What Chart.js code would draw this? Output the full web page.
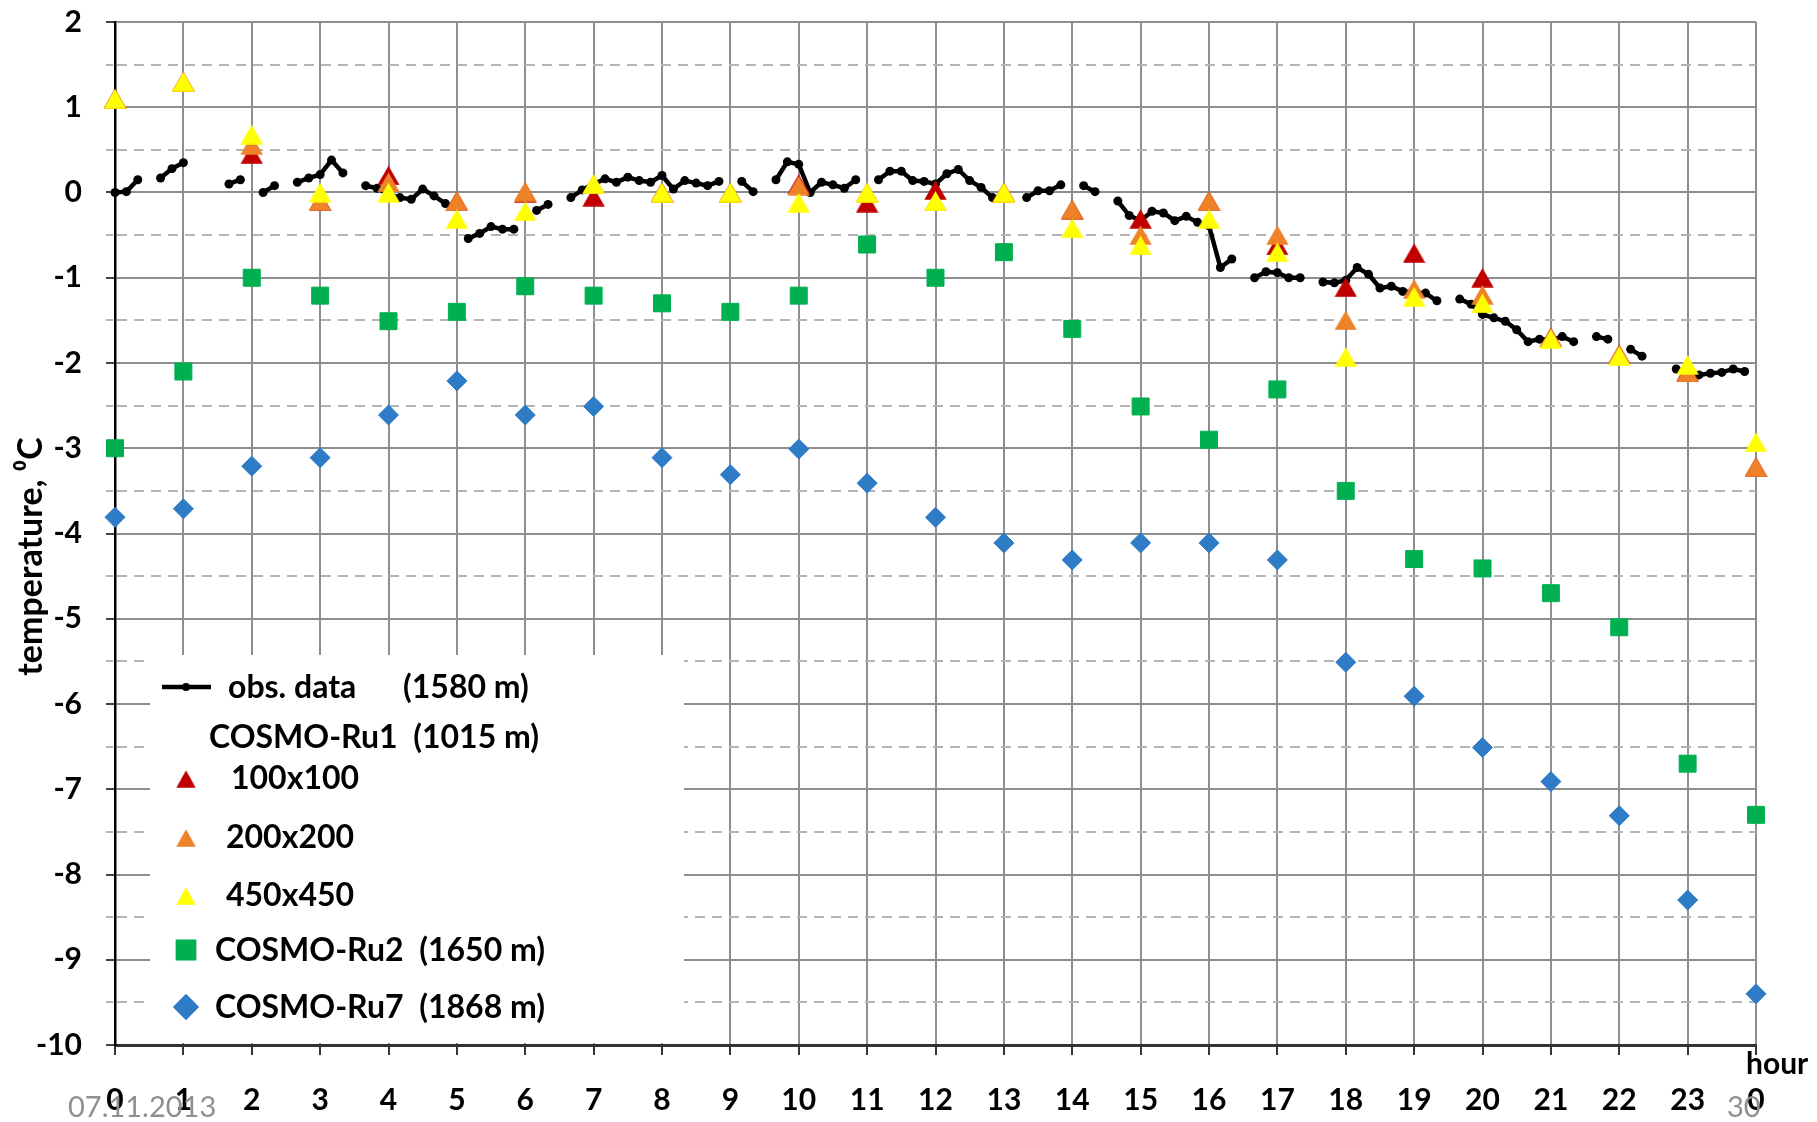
<!DOCTYPE html>
<html>
<head>
<meta charset="utf-8">
<script src="https://cdn.jsdelivr.net/npm/chart.js@4.4.0/dist/chart.umd.min.js"></script>
<style>
  html, body { margin: 0; padding: 0; background: #ffffff; }
  canvas { display: block; }
</style>
</head>
<body>
<canvas id="c" width="1817" height="1122"></canvas>
<script>
// ---------- DATA ----------
const hours = [0,1,2,3,4,5,6,7,8,9,10,11,12,13,14,15,16,17,18,19,20,21,22,23,24];
const hourLabels = ['0','1','2','3','4','5','6','7','8','9','10','11','12','13','14','15','16','17','18','19','20','21','22','23','0'];

// COSMO-Ru1 (1015 m), three averaging areas
const ru1_100x100 = [1.1, 1.3, 0.45, -0.1, 0.2, -0.1, 0.0, -0.05, 0.0, 0.0, 0.1, -0.12, 0.03, 0.0, -0.2, -0.31, -0.1, -0.62, -1.11, -0.71, -1.0, -1.7, -1.9, -2.1, -3.22];
const ru1_200x200 = [1.1, 1.3, 0.56, -0.1, 0.12, -0.1, 0.01, 0.1, 0.0, 0.0, 0.08, 0.0, -0.1, 0.0, -0.2, -0.5, -0.1, -0.5, -1.5, -1.13, -1.2, -1.7, -1.9, -2.11, -3.22];
const ru1_450x450 = [1.1, 1.3, 0.68, 0.0, 0.0, -0.31, -0.22, 0.1, 0.0, 0.0, -0.12, 0.0, -0.1, 0.0, -0.42, -0.62, -0.31, -0.7, -1.93, -1.22, -1.3, -1.72, -1.92, -2.02, -2.93];
// COSMO-Ru2 (1650 m)
const ru2 = [-3.0, -2.1, -1.0, -1.21, -1.51, -1.4, -1.1, -1.21, -1.3, -1.4, -1.21, -0.61, -1.0, -0.7, -1.6, -2.51, -2.9, -2.31, -3.5, -4.3, -4.41, -4.7, -5.1, -6.7, -7.3];
// COSMO-Ru7 (1868 m)
const ru7 = [-3.81, -3.71, -3.21, -3.11, -2.61, -2.21, -2.61, -2.51, -3.11, -3.31, -3.01, -3.41, -3.81, -4.11, -4.31, -4.11, -4.11, -4.31, -5.51, -5.91, -6.51, -6.91, -7.31, -8.3, -9.4];

// observations (1580 m), every 10 minutes from 0:00 (null = missing)
const obsStepHours = 1 / 6;
const obsValues = [
  0.00, 0.01, 0.15, null, 0.17, 0.28,      // 0 h
  0.35, null, null, null, 0.10, 0.15,      // 1 h
  null, 0.00, 0.08, null, 0.12, 0.17,      // 2 h
  0.21, 0.38, 0.23, null, 0.08, 0.05,      // 3 h
  -0.02, -0.06, -0.08, 0.04, -0.04, -0.13, // 4 h
  null, -0.54, -0.48, -0.40, -0.43, -0.43, // 5 h
  null, -0.21, -0.14, null, -0.06, 0.03,   // 6 h
  0.10, 0.16, 0.12, 0.18, 0.14, 0.12,      // 7 h
  0.20, 0.04, 0.14, 0.11, 0.08, 0.13,      // 8 h
  null, 0.13, 0.01, null, 0.15, 0.36,      // 9 h
  0.33, 0.00, 0.12, 0.09, 0.05, 0.15,      // 10 h
  null, 0.15, 0.25, 0.25, 0.14, 0.13,      // 11 h
  0.10, 0.22, 0.27, 0.14, 0.06, -0.06,     // 12 h
  null, null, -0.06, 0.02, 0.02, 0.09,     // 13 h
  null, 0.08, 0.01, null, -0.10, -0.27,    // 14 h
  -0.33, -0.22, -0.24, -0.33, -0.28, -0.35,// 15 h
  -0.39, -0.88, -0.78, null, -1.00, -0.93, // 16 h
  -0.94, -1.00, -1.00, null, -1.05, -1.06, // 17 h
  -1.03, -0.88, -0.96, -1.12, -1.10, -1.16,// 18 h
  -1.17, -1.18, -1.27, null, -1.25, -1.31, // 19 h
  -1.43, -1.47, -1.51, -1.61, -1.75, -1.72,// 20 h
  -1.73, -1.69, -1.75, null, -1.69, -1.72, // 21 h
  null, -1.84, -1.92, null, null, -2.07,   // 22 h
  -2.10, -2.14, -2.12, -2.11, -2.07, -2.10 // 23 h
];

const yTitle = 'temperature, \u2070C';
const xTitle = 'hour';
const footerLeft = '07.11.2013';
const footerRight = '30';

// ---------- STYLE ----------
const C_RED = '#C00000', C_ORANGE = '#EE8228', C_YELLOW = '#FFFF00', C_GREEN = '#00B050', C_BLUE = '#2E7BC6';
const FONT = 'Lato';
const GRID = '#8e8e8e';

// bounding-box centred triangle marker (as in spreadsheet charts)
function triangleImage(color, w, h) {
  const cv = document.createElement('canvas');
  cv.width = w; cv.height = h;
  const c = cv.getContext('2d');
  c.fillStyle = color;
  c.beginPath();
  c.moveTo(w / 2, 0.3); c.lineTo(w - 0.3, h - 0.3); c.lineTo(0.3, h - 0.3); c.closePath();
  c.fill();
  return cv;
}
const TRI_RED = triangleImage(C_RED, 23, 20);
const TRI_ORANGE = triangleImage(C_ORANGE, 23, 20);
const TRI_YELLOW = triangleImage(C_YELLOW, 23, 20);

const toPts = arr => hours.map((h, i) => ({ x: h, y: arr[i] }));
const obsPts = obsValues.map((v, i) => ({ x: i * obsStepHours, y: v }));

function marker(ctx, style, radius, color, x, y) {
  ctx.save();
  ctx.fillStyle = color; ctx.strokeStyle = color;
  if (Chart.helpers && Chart.helpers.drawPoint) {
    Chart.helpers.drawPoint(ctx, { pointStyle: style, radius: radius, rotation: 0, borderWidth: 1 }, x, y);
  }
  ctx.restore();
}

const extras = {
  id: 'extras',
  beforeDatasetsDraw(chart) {
    const { ctx, chartArea: a, scales: { y } } = chart;
    ctx.save();
    ctx.strokeStyle = '#b4b4b4';
    ctx.lineWidth = 2;
    ctx.setLineDash([10, 7]);
    for (let v = -9.5; v < 2; v += 1) {
      const py = Math.round(y.getPixelForValue(v));
      ctx.beginPath(); ctx.moveTo(a.left - 9, py); ctx.lineTo(a.left - 2, py); ctx.stroke();
      ctx.beginPath(); ctx.moveTo(a.left + 2, py); ctx.lineTo(a.right, py); ctx.stroke();
    }
    ctx.restore();
  },
  afterDatasetsDraw(chart) {
    const { ctx, chartArea: a } = chart;
    const L = a.left, T = a.top;
    ctx.save();
    // legend background
    ctx.fillStyle = '#ffffff';
    ctx.fillRect(L + 35, T + 633, 534, a.bottom - 2 - (T + 633));
    ctx.fillStyle = '#000';
    ctx.textBaseline = 'middle';
    ctx.textAlign = 'left';
    ctx.font = 'bold 32px ' + FONT;
    // obs line sample
    ctx.strokeStyle = '#000'; ctx.lineWidth = 4.5;
    ctx.beginPath(); ctx.moveTo(L + 47, T + 665); ctx.lineTo(L + 96, T + 665); ctx.stroke();
    ctx.beginPath(); ctx.arc(L + 71, T + 665, 4, 0, Math.PI * 2); ctx.fill();
    ctx.fillText('obs. data', L + 113, T + 666);
    ctx.fillText('(1580 m)', L + 288, T + 666);
    ctx.fillText('COSMO-Ru1  (1015 m)', L + 94, T + 716);
    ctx.drawImage(TRI_RED, L + 71 - 10, T + 757 - 9, 20, 18);
    ctx.fillText('100x100', L + 116, T + 757);
    ctx.drawImage(TRI_ORANGE, L + 71 - 10, T + 816 - 9, 20, 18);
    ctx.fillText('200x200', L + 111, T + 816);
    ctx.drawImage(TRI_YELLOW, L + 71 - 10, T + 874 - 9, 20, 18);
    ctx.fillText('450x450', L + 111, T + 874);
    marker(ctx, 'rect', 11.5, C_GREEN, L + 71, T + 928);
    ctx.fillText('COSMO-Ru2  (1650 m)', L + 100, T + 929);
    marker(ctx, 'rectRot', 10, C_BLUE, L + 71, T + 985);
    ctx.fillText('COSMO-Ru7  (1868 m)', L + 100, T + 986);
    ctx.restore();
  },
  afterDraw(chart) {
    const { ctx, chartArea: a } = chart;
    ctx.save();
    // y title
    ctx.translate(a.left - 84, (a.top + a.bottom) / 2 + 23);
    ctx.rotate(-Math.PI / 2);
    ctx.fillStyle = '#000';
    ctx.font = 'bold 34px ' + FONT;
    ctx.textAlign = 'center';
    ctx.textBaseline = 'middle';
    ctx.fillText(yTitle, 0, 0);
    ctx.restore();
    ctx.save();
    ctx.fillStyle = '#000';
    ctx.font = 'bold 30px ' + FONT;
    ctx.textAlign = 'left';
    ctx.textBaseline = 'middle';
    ctx.fillText(xTitle, a.right - 10, a.bottom + 19);
    ctx.fillStyle = '#8f8f8f';
    ctx.font = '29px ' + FONT;
    ctx.fillText(footerLeft, 68, a.bottom + 63);
    ctx.fillText(footerRight, a.right - 29, a.bottom + 63);
    ctx.restore();
  }
};

const tickFont = { family: FONT, weight: 'bold', size: 30 };

new Chart(document.getElementById('c'), {
  type: 'scatter',
  data: {
    datasets: [
      { label: 'obs. data (1580 m)', data: obsPts, showLine: true, spanGaps: false,
        borderColor: '#000', borderWidth: 4.5, pointRadius: 4.5, pointBackgroundColor: '#000',
        pointBorderColor: '#000', pointBorderWidth: 0, order: 4, clip: false },
      { label: '100x100', data: toPts(ru1_100x100), pointStyle: TRI_RED, pointRadius: 12,
        backgroundColor: C_RED, borderColor: C_RED, order: 3, clip: false },
      { label: '200x200', data: toPts(ru1_200x200), pointStyle: TRI_ORANGE, pointRadius: 12,
        backgroundColor: C_ORANGE, borderColor: C_ORANGE, order: 2, clip: false },
      { label: '450x450', data: toPts(ru1_450x450), pointStyle: TRI_YELLOW, pointRadius: 12,
        backgroundColor: C_YELLOW, borderColor: C_YELLOW, order: 1, clip: false },
      { label: 'COSMO-Ru2 (1650 m)', data: toPts(ru2), pointStyle: 'rect', pointRadius: 12,
        backgroundColor: C_GREEN, borderColor: C_GREEN, pointBorderWidth: 1, order: 5, clip: false },
      { label: 'COSMO-Ru7 (1868 m)', data: toPts(ru7), pointStyle: 'rectRot', pointRadius: 10,
        backgroundColor: C_BLUE, borderColor: C_BLUE, pointBorderWidth: 1, order: 6, clip: false }
    ]
  },
  options: {
    responsive: false,
    animation: false,
    devicePixelRatio: 1,
    layout: { padding: { left: 0, top: 22, right: 61, bottom: 0 } },
    plugins: { legend: { display: false }, tooltip: { enabled: false } },
    scales: {
      x: {
        type: 'linear', min: 0, max: 24,
        afterFit: s => { s.height = 77; },
        ticks: { stepSize: 1, autoSkip: false, maxRotation: 0, padding: 27, color: '#000', font: tickFont,
                 callback: v => (hourLabels[v] !== undefined ? hourLabels[v] : '') },
        grid: { color: c => (c.tick && c.tick.value === 0 ? 'rgba(0,0,0,0)' : GRID), lineWidth: 2,
                tickLength: 10, tickColor: '#333', tickWidth: 2 },
        border: { color: '#333', width: 3 }
      },
      y: {
        min: -10, max: 2,
        afterFit: s => { s.width = 115; s.paddingTop = 0; s.paddingBottom = 0; },
        ticks: { stepSize: 0.5, autoSkip: false, maxTicksLimit: 100, padding: 24, color: '#000', font: tickFont,
                 callback: v => (Number.isInteger(v) ? String(v) : '') },
        grid: { color: c => (c.tick && Number.isInteger(c.tick.value) && c.tick.value !== -10 ? GRID : 'rgba(0,0,0,0)'),
                lineWidth: 2, tickLength: 9,
                tickColor: c => (c.tick && Number.isInteger(c.tick.value) ? '#444' : 'rgba(0,0,0,0)'), tickWidth: 2 },
        border: { color: '#000', width: 2.5 }
      }
    }
  },
  plugins: [extras]
});
</script>
</body>
</html>
